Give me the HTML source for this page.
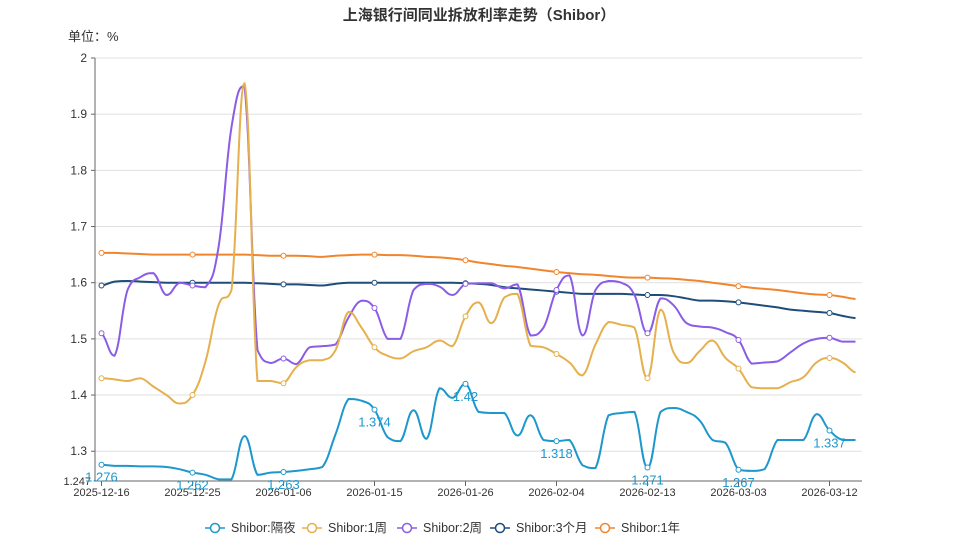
<!DOCTYPE html>
<html><head><meta charset="utf-8">
<style>
html,body{margin:0;padding:0;background:#fff;}
svg{display:block;font-family:"Liberation Sans","Noto Sans CJK SC",sans-serif;}
</style></head>
<body>
<svg id="chart" width="959" height="540" viewBox="0 0 959 540" xmlns="http://www.w3.org/2000/svg">
<text x="479" y="20" text-anchor="middle" font-size="15" font-weight="bold" fill="#333">上海银行间同业拆放利率走势（Shibor）</text>
<text x="68" y="41" font-size="13" fill="#333">单位：%</text>
<g id="grid"></g><g id="axes"></g><g id="series"></g><g id="labels"></g><g id="legend"></g>
</svg>
<script>
const categories = ["2025-12-16","","","","","","","2025-12-25","","","","","","","2026-01-06","","","","","","","2026-01-15","","","","","","","2026-01-26","","","","","","","2026-02-04","","","","","","","2026-02-13","","","","","","","2026-03-03","","","","","","","2026-03-12","",""];
const overnight = [1.276,1.274,1.274,1.273,1.273,1.272,1.268,1.262,1.258,1.250,1.250,1.327,1.258,1.262,1.263,1.265,1.268,1.272,1.33,1.393,1.39,1.374,1.325,1.318,1.373,1.322,1.412,1.395,1.42,1.37,1.368,1.368,1.328,1.364,1.32,1.318,1.32,1.275,1.27,1.364,1.368,1.37,1.271,1.37,1.377,1.37,1.355,1.32,1.315,1.267,1.265,1.268,1.32,1.32,1.32,1.366,1.337,1.32,1.32];
const week1 = [1.43,1.428,1.425,1.43,1.415,1.40,1.385,1.40,1.46,1.56,1.587,1.955,1.425,1.425,1.421,1.45,1.462,1.462,1.48,1.548,1.52,1.485,1.47,1.465,1.478,1.485,1.497,1.487,1.54,1.565,1.528,1.574,1.58,1.488,1.485,1.473,1.458,1.435,1.49,1.53,1.525,1.52,1.43,1.552,1.476,1.457,1.478,1.497,1.466,1.447,1.414,1.412,1.412,1.423,1.432,1.458,1.466,1.458,1.44];
const week2 = [1.51,1.47,1.587,1.61,1.617,1.578,1.6,1.595,1.592,1.663,1.877,1.95,1.48,1.457,1.465,1.455,1.485,1.487,1.49,1.538,1.568,1.555,1.5,1.5,1.587,1.598,1.593,1.578,1.598,1.599,1.599,1.59,1.597,1.506,1.52,1.587,1.613,1.506,1.587,1.603,1.6,1.578,1.51,1.572,1.56,1.528,1.522,1.52,1.512,1.498,1.456,1.458,1.46,1.476,1.492,1.5,1.502,1.495,1.495];
const month3 = [1.595,1.602,1.603,1.602,1.601,1.6,1.6,1.6,1.6,1.6,1.6,1.6,1.599,1.598,1.597,1.597,1.596,1.595,1.598,1.6,1.6,1.6,1.6,1.6,1.6,1.6,1.6,1.6,1.599,1.598,1.596,1.592,1.59,1.588,1.586,1.584,1.582,1.58,1.58,1.58,1.58,1.579,1.578,1.578,1.576,1.572,1.568,1.568,1.567,1.565,1.562,1.559,1.556,1.552,1.55,1.548,1.546,1.541,1.537];
const year1 = [1.653,1.653,1.652,1.651,1.65,1.65,1.65,1.65,1.65,1.65,1.65,1.65,1.649,1.648,1.648,1.648,1.647,1.646,1.648,1.649,1.65,1.65,1.649,1.649,1.648,1.646,1.645,1.643,1.64,1.636,1.633,1.63,1.628,1.625,1.622,1.619,1.617,1.615,1.614,1.612,1.61,1.609,1.609,1.608,1.607,1.605,1.603,1.6,1.597,1.594,1.591,1.589,1.587,1.584,1.581,1.579,1.578,1.575,1.571];
const yTicks = [1.3,1.4,1.5,1.6,1.7,1.8,1.9,2];
const yMin = 1.247, yMax = 2;
const seriesNames = ["Shibor:隔夜","Shibor:1周","Shibor:2周","Shibor:3个月","Shibor:1年"];
const colors = ["#1e97cc","#e5b04d","#8b5ce6","#1f4d79","#f1852d"];

const NS="http://www.w3.org/2000/svg";
const L=95,R=862,T=58,B=481;
const step=(R-L)/categories.length;
const xs=i=>L+step*(i+0.5);
const ys=v=>B-(v-yMin)/(yMax-yMin)*(B-T);
function mk(tag,parent,attrs){const e=document.createElementNS(NS,tag);for(const k in attrs)e.setAttribute(k,attrs[k]);parent.appendChild(e);return e;}
const grid=document.getElementById('grid'),axes=document.getElementById('axes'),ser=document.getElementById('series'),lab=document.getElementById('labels'),leg=document.getElementById('legend');
yTicks.forEach(t=>{
  const g=mk('line',grid,{x1:L,x2:R,y1:ys(t),y2:ys(t),stroke:'#e0e0e0','stroke-width':1});
  
  
  const tk=mk('line',axes,{x1:L-4,x2:L,y1:ys(t),y2:ys(t),stroke:'#666'});
  
  
  const tx=mk('text',axes,{x:L-8,y:ys(t)+4,'text-anchor':'end','font-size':12,fill:'#333'});
  tx.textContent=String(t);
  
  
});
const ymt=mk('text',axes,{x:L-4,y:B+4,'text-anchor':'end','font-size':11,fill:'#333'});
ymt.textContent=String(yMin);


const ya=mk('line',axes,{x1:L,x2:L,y1:T,y2:B,stroke:'#666'});


const xa=mk('line',axes,{x1:L,x2:R,y1:B,y2:B,stroke:'#666'});


categories.forEach((c,i)=>{
  if(!c)return;
  const tk=mk('line',axes,{x1:xs(i),x2:xs(i),y1:B,y2:B+5,stroke:'#666'});
  
  
  const tx=mk('text',axes,{x:xs(i),y:B+15,'text-anchor':'middle','font-size':11,fill:'#333'});
  tx.textContent=c;
  
  
});
function smoothPath(vals){
  const p=vals.map((v,i)=>[xs(i),ys(v)]);
  let d='M'+p[0][0]+','+p[0][1];
  const s=0.22;
  const cl=(v,a,b)=>Math.max(Math.min(a,b),Math.min(Math.max(a,b),v));
  for(let i=0;i<p.length-1;i++){
    const p0=p[i-1]||p[i],p1=p[i],p2=p[i+1],p3=p[i+2]||p[i+1];
    let c1y=p1[1]+(p2[1]-p0[1])*s, c2y=p2[1]-(p3[1]-p1[1])*s;
    // clamp each control point to the neighbourhood of its anchor to avoid overshoot
    const prevLo=i>0?[p0[1],p1[1]]:[p1[1],p1[1]];
    c1y=cl(c1y,p1[1],p2[1]);
    c2y=cl(c2y,p1[1],p2[1]);
    d+=' C'+(p1[0]+step*s*2)+','+c1y+' '+(p2[0]-step*s*2)+','+c2y+' '+p2[0]+','+p2[1];
  }
  return d;
}
const cp=mk('clipPath',document.getElementById('chart'),{id:'clip'});
mk('rect',cp,{x:L,y:T-10,width:R-L+2,height:B-T+10});
const all=[overnight,week1,week2,month3,year1];
const snames=['series-overnight','series-1w','series-2w','series-3m','series-1y'];
[4,3,2,1,0].forEach(k=>{
  const g=mk('g',ser,{'clip-path':'url(#clip)'});
  
  
  const path=mk('path',g,{d:smoothPath(all[k]),fill:'none',stroke:colors[k],'stroke-width':2});
  
  
  all[k].forEach((v,i)=>{
    if(i%7!==0)return;
    const c=mk('circle',g,{cx:xs(i),cy:ys(v),r:2.5,fill:'#fff',stroke:colors[k],'stroke-width':1});
    
    
  });
});
overnight.forEach((v,i)=>{
  if(i%7!==0)return;
  const t=mk('text',lab,{x:xs(i),y:ys(v)+17,'text-anchor':'middle','font-size':13,fill:colors[0]});
  t.textContent=String(v);
  
  
});
const lx=[205,302,397,490,595];
seriesNames.forEach((n,k)=>{
  const g=mk('g',leg,{});
  
  
  mk('line',g,{x1:lx[k],x2:lx[k]+20,y1:528,y2:528,stroke:colors[k],'stroke-width':1.5});
  mk('circle',g,{cx:lx[k]+10,cy:528,r:4.5,fill:'#fff',stroke:colors[k],'stroke-width':1.5});
  const t=mk('text',g,{x:lx[k]+26,y:532,'font-size':12.5,fill:'#333'});
  t.textContent=n;
});
</script>
</body></html>
